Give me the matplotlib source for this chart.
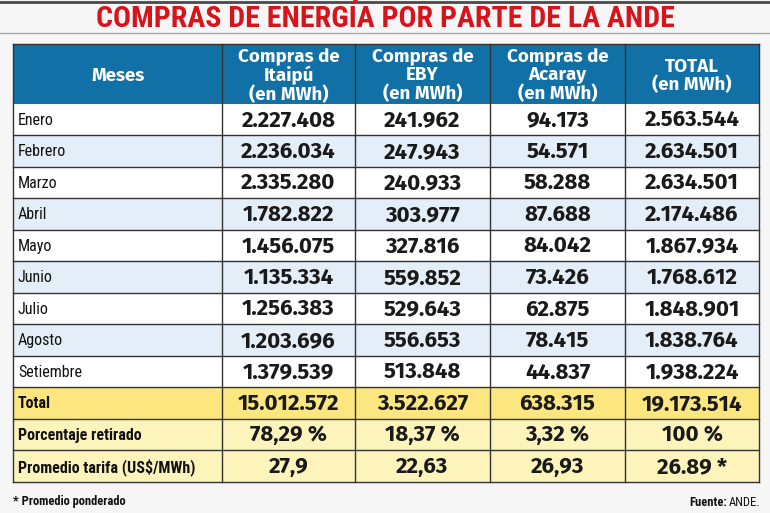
import matplotlib.pyplot as plt
from matplotlib.patches import Rectangle

meses = ["Enero", "Febrero", "Marzo", "Abril", "Mayo", "Junio", "Julio",
         "Agosto", "Setiembre"]
itaipu = ["2.227.408", "2.236.034", "2.335.280", "1.782.822", "1.456.075",
          "1.135.334", "1.256.383", "1.203.696", "1.379.539"]
eby = ["241.962", "247.943", "240.933", "303.977", "327.816", "559.852",
       "529.643", "556.653", "513.848"]
acaray = ["94.173", "54.571", "58.288", "87.688", "84.042", "73.426",
          "62.875", "78.415", "44.837"]
total = ["2.563.544", "2.634.501", "2.634.501", "2.174.486", "1.867.934",
         "1.768.612", "1.848.901", "1.838.764", "1.938.224"]
encabezados = ["Meses", "Compras de\nItaipú\n(en MWh)", "Compras de\nEBY\n(en MWh)",
               "Compras de\nAcaray\n(en MWh)", "TOTAL\n(en MWh)"]
resumen = [
    ["Total", "15.012.572", "3.522.627", "638.315", "19.173.514"],
    ["Porcentaje retirado", "78,29 %", "18,37 %", "3,32 %", "100 %"],
    ["Promedio tarifa (US$/MWh)", "27,9", "22,63", "26,93", "26.89 *"],
]

narrow = ["Roboto Condensed", "DejaVu Sans"]
head_font = ["Fira Sans", "Open Sans", "DejaVu Sans"]
num_font = ["Fira Sans", "Lato", "DejaVu Sans"]

fig = plt.figure(figsize=(7.7, 5.13), dpi=100, facecolor="#f6f6f6")
ax = fig.add_axes([0, 0, 1, 1])
ax.set_xlim(0, 770)
ax.set_ylim(513, 0)
ax.axis("off")

# titulo
ax.plot([0, 770], [1.5, 1.5], color="#4a4a4a", lw=2)
ax.plot([0, 770], [33, 33], color="#a8a8a8", lw=1)
ax.text(385, 19, "COMPRAS DE ENERGÍA POR PARTE DE LA ANDE", ha="center", va="center",
        fontsize=21.5, fontweight="bold", color="#d5141c",
        family=["Roboto Condensed", "DejaVu Sans"])

cols = [13, 222, 355, 490, 625, 759]
head_top, head_bot = 44, 103.5
row_h = 31.5
blue = "#1170a6"

ax.add_patch(Rectangle((cols[0], head_top), cols[-1] - cols[0], head_bot - head_top,
                       facecolor=blue, edgecolor="none"))
for j, h in enumerate(encabezados):
    xc = (cols[j] + cols[j + 1]) / 2
    ax.text(xc, (head_top + head_bot) / 2 + 2, h, ha="center", va="center",
            color="white", fontsize=13.5, fontweight="bold", family=head_font,
            linespacing=1.0)

filas = [[m, a, b, c, d] for m, a, b, c, d in zip(meses, itaipu, eby, acaray, total)]
filas += resumen
y = head_bot
for i, fila in enumerate(filas):
    if i < len(meses):
        fc = "white" if i % 2 == 0 else "#e3eef8"
    elif i == len(meses):
        fc = "#fbe680"
    else:
        fc = "#fdf4bb"
    ax.add_patch(Rectangle((cols[0], y), cols[-1] - cols[0], row_h,
                           facecolor=fc, edgecolor="none"))
    yc = y + row_h / 2 + 1
    if i < len(meses):
        ax.text(cols[0] + 5, yc, fila[0], ha="left", va="center", fontsize=11.5,
                color="#111111", family=narrow)
    else:
        ax.text(cols[0] + 5, yc, fila[0], ha="left", va="center", fontsize=11.5,
                color="#111111", family=narrow, fontweight="bold")
    for j in range(1, 5):
        xc = (cols[j] + cols[j + 1]) / 2
        ax.text(xc, yc, fila[j], ha="center", va="center", fontsize=16,
                fontweight="bold", color="#1a1a1a", family=num_font)
    y += row_h
    ax.plot([cols[0], cols[-1]], [y, y], color="#333333", lw=1)

# bordes verticales
for x in cols:
    ax.plot([x, x], [head_top, y], color="#333333", lw=1)
ax.plot([cols[0], cols[-1]], [head_top, head_top], color="#333333", lw=1)

ax.text(13, 501, "* Promedio ponderado", ha="left", va="center", fontsize=9,
        family=narrow, fontweight="bold", color="#111111")
fuente = ax.text(760, 502, "ANDE.", ha="right", va="center", fontsize=9,
                 family=narrow, color="#111111")
renderer = fig.canvas.get_renderer()
ancho = fuente.get_window_extent(renderer).width
ax.text(760 - ancho - 2, 502, "Fuente:", ha="right", va="center", fontsize=9,
        family=narrow, fontweight="bold", color="#111111")

fig.savefig("out.png", dpi=100, facecolor=fig.get_facecolor())
